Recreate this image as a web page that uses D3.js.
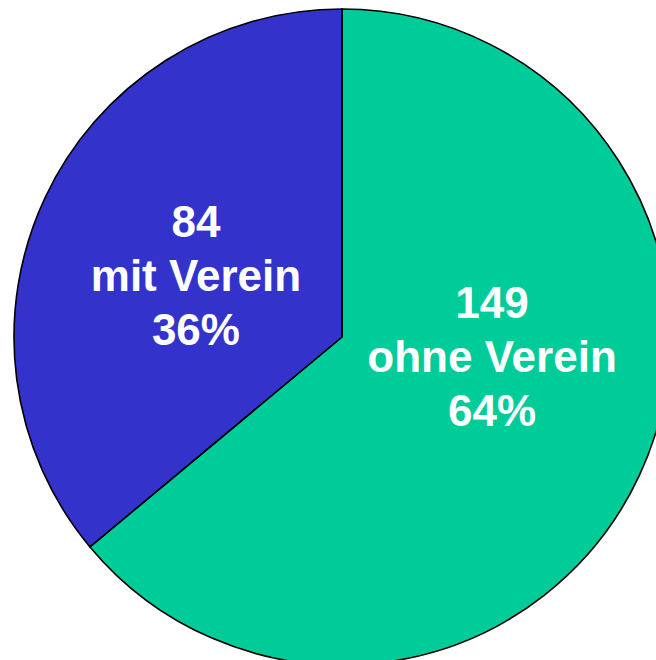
<html>
<head>
    <script src="https://d3js.org/d3.v7.min.js"></script>
    <style>
        body { margin: 0; background: #fff; }
        .slice { stroke: black; stroke-width: 1.6px; stroke-linejoin: miter; }
        .label {
            fill: white;
            font-family: 'Liberation Sans', Arial, sans-serif;
            font-weight: bold;
            font-size: 44px;
        }
    </style>
</head>
<body>
<svg id="pie" width="656" height="660"></svg>
<script>
    // data, clockwise from the top
    const groups = ['ohne Verein', 'mit Verein'];
    const counts = [149, 84];
    const colors = ['#00CC99', '#3333CC'];

    const svg = d3.select('#pie');
    const cx = 342, cy = 337, radius = 328;
    const lineGap = 54;

    // hand placement of the labels, as in the original slide
    const labelShift = [[7, -47], [-3, 6]];

    const total = d3.sum(counts);
    const rows = groups.map((g, i) => ({ name: g, value: counts[i], color: colors[i], idx: i }));

    const pie = d3.pie().sort(null).value(d => d.value);
    const arc = d3.arc().innerRadius(0).outerRadius(radius);
    const labelArc = d3.arc().innerRadius(158).outerRadius(158);

    const plot = svg.append('g').attr('transform', `translate(${cx}, ${cy})`);

    const arcs = pie(rows);

    plot.selectAll('path.slice')
        .data(arcs)
        .join('path')
        .attr('class', 'slice')
        .attr('fill', d => d.data.color)
        .attr('d', arc);

    const labels = plot.selectAll('text.label')
        .data(arcs)
        .join('text')
        .attr('class', 'label')
        .attr('text-anchor', 'middle')
        .attr('transform', d => {
            const c = labelArc.centroid(d);
            const s = labelShift[d.data.idx];
            return `translate(${c[0] + s[0]}, ${c[1] + s[1]})`;
        });

    labels.each(function(d) {
        const lines = [d.data.value, d.data.name, d3.format('.0%')(d.data.value / total)];
        d3.select(this).selectAll('tspan')
            .data(lines)
            .join('tspan')
            .attr('x', 0)
            .attr('y', (t, i) => (i - 1) * lineGap + 15)
            .text(t => t);
    });
</script>
</body>
</html>
